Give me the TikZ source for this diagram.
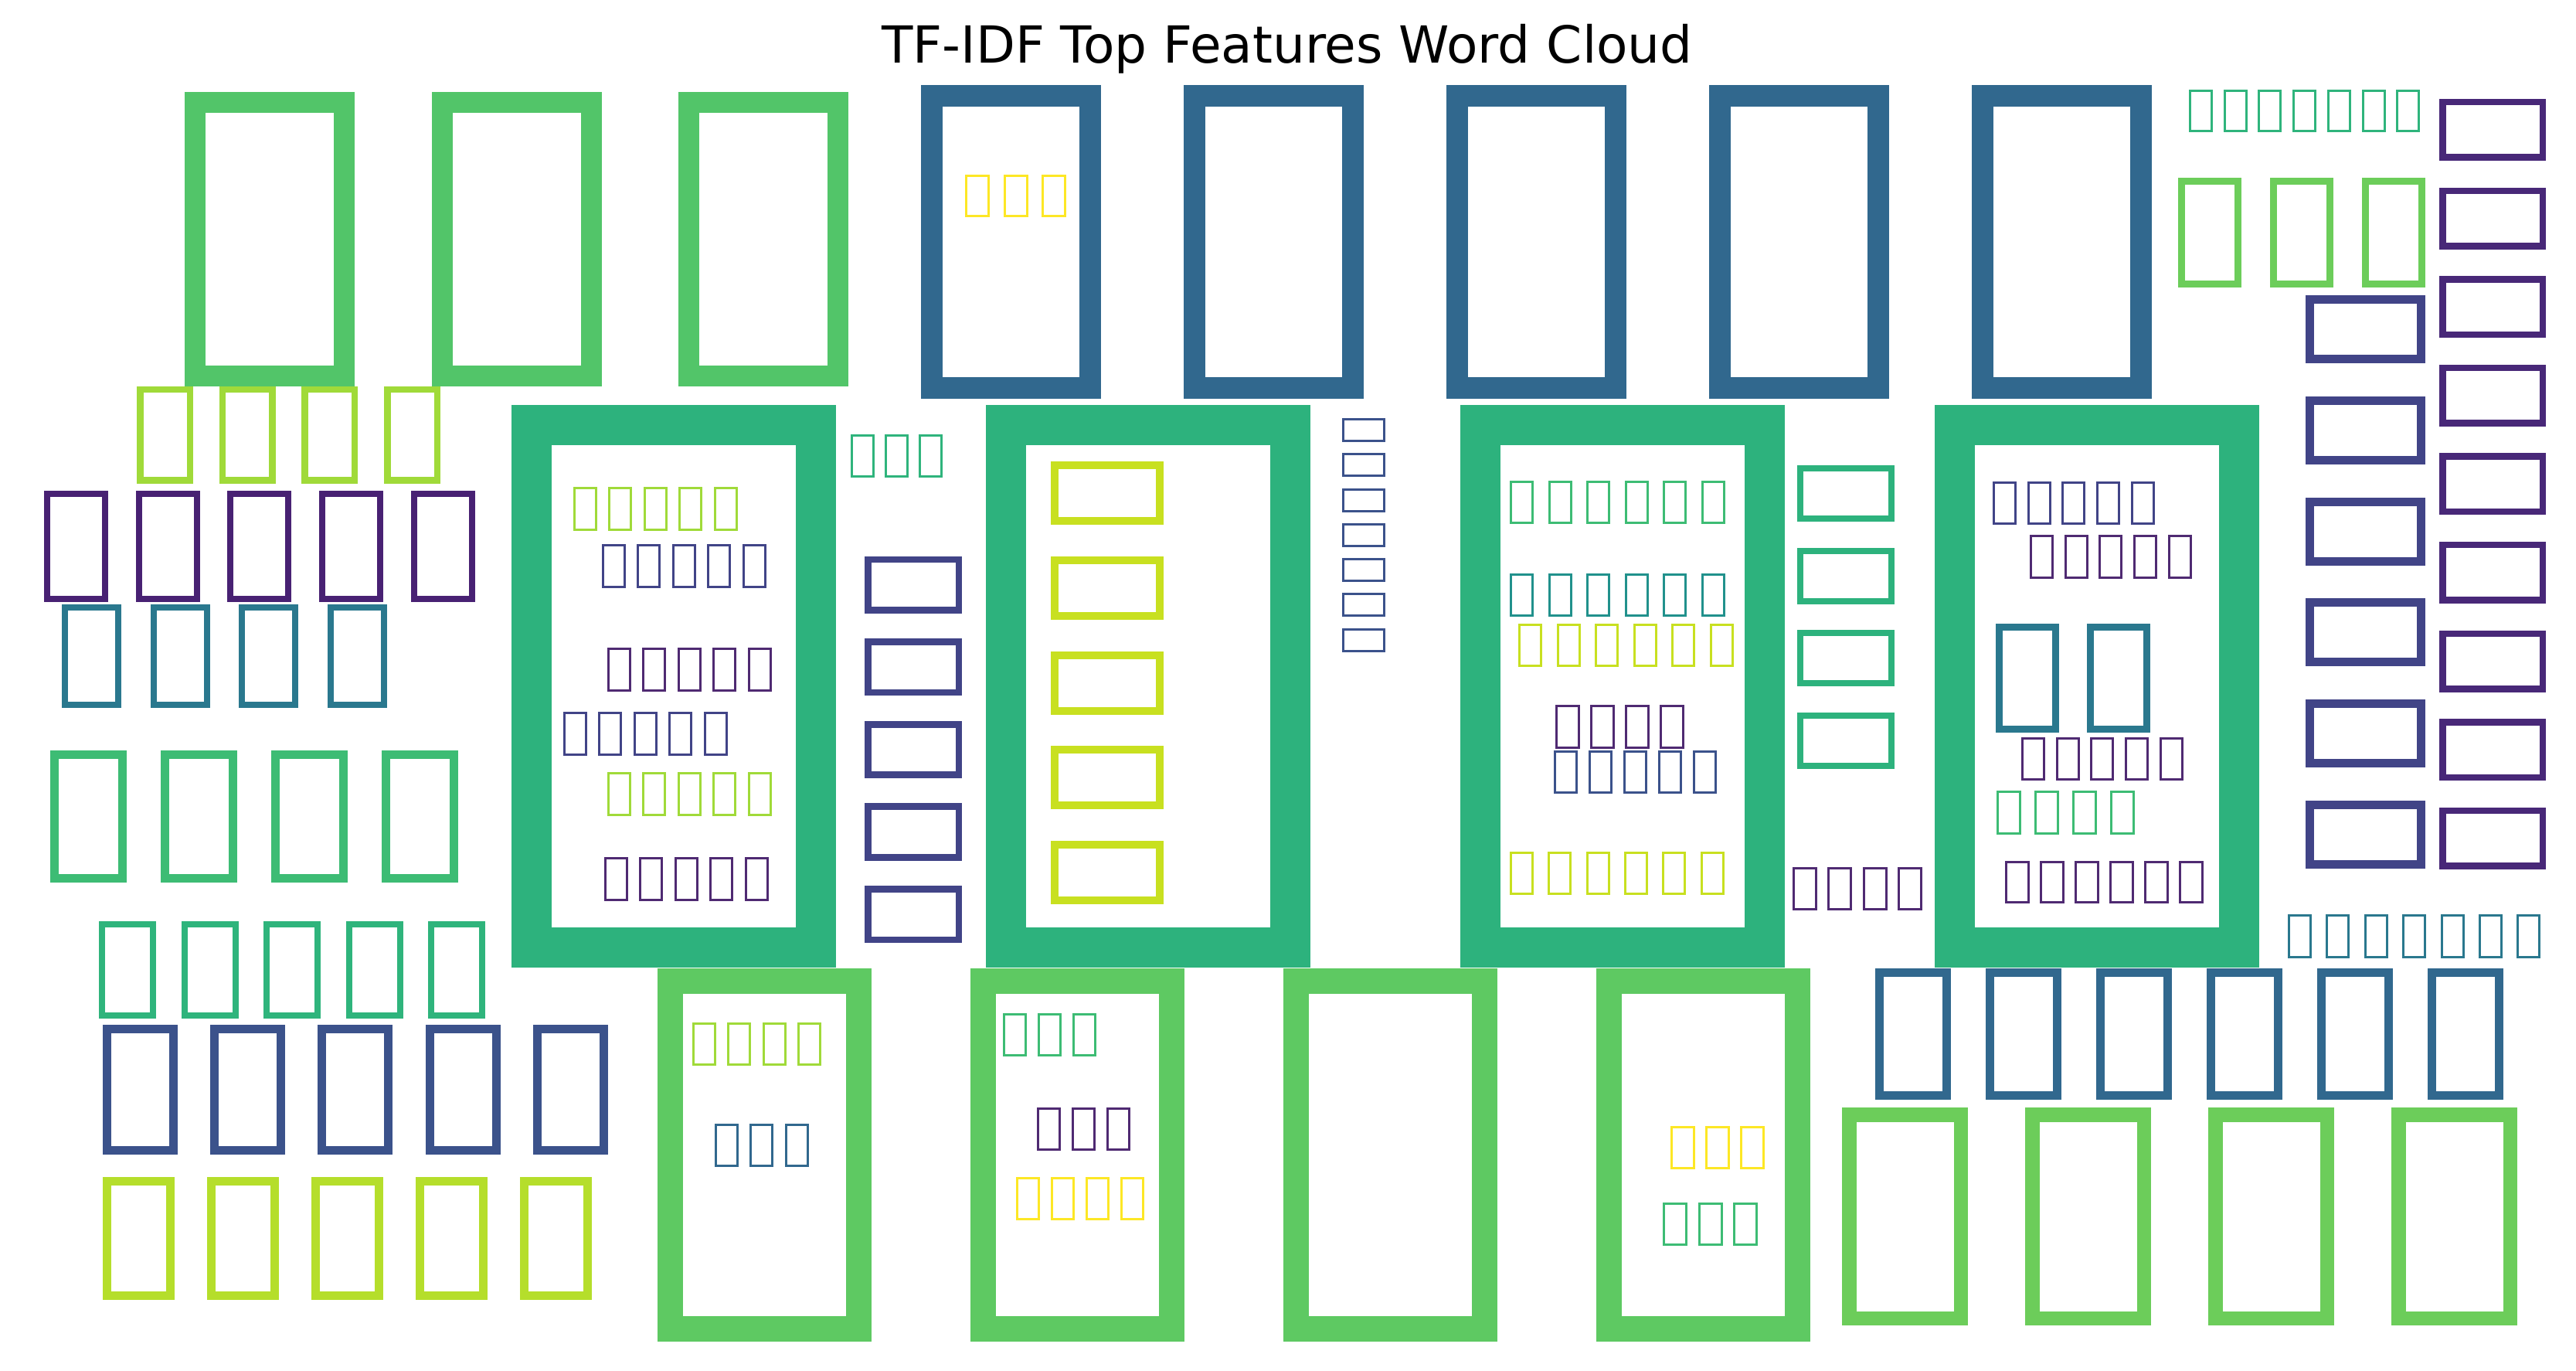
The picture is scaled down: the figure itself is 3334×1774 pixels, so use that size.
\documentclass[tikz,border=0pt]{standalone}
\usepackage{fontspec}
\setsansfont{DejaVu Sans}
\usepackage{tikz}
\usepackage{xcolor}
\definecolor{topgreen}{HTML}{52C569}
\definecolor{topblue}{HTML}{31688E}
\definecolor{bigteal}{HTML}{2DB27D}
\definecolor{lowgreen}{HTML}{5EC962}
\definecolor{sidegreen}{HTML}{6CCD5A}
\definecolor{yellow}{HTML}{FDE725}
\definecolor{lime}{HTML}{A0DA39}
\definecolor{limeb}{HTML}{B5DE2B}
\definecolor{limec}{HTML}{C8E020}
\definecolor{purple}{HTML}{482173}
\definecolor{purpleb}{HTML}{482878}
\definecolor{deep}{HTML}{4F2A72}
\definecolor{indigo}{HTML}{414487}
\definecolor{slate}{HTML}{3B528B}
\definecolor{petrol}{HTML}{2A788E}
\definecolor{tealb}{HTML}{21918C}
\definecolor{mint}{HTML}{3DBC74}
\definecolor{jade}{HTML}{2FB47C}
\tikzset{tofu/.style={draw=#1, line join=miter},
 cloudtitle/.style={font=\sffamily\fontsize{18.8}{22}\selectfont, anchor=base},
 }
\newcommand{\tofurow}[9]{%
  \foreach \k in {1,...,#4}{%
    \draw[tofu=#1, line width=#9*0.2845pt]
      ({#2+(\k-1)*#7+#9/2},{#3+(\k-1)*#8+#9/2}) rectangle
      ({#2+(\k-1)*#7+#5-#9/2},{#3+(\k-1)*#8+#6-#9/2});
  }%
}

\begin{document}
\begin{tikzpicture}[x=0.01cm, y=-0.01cm]
        \fill[white] (0,0) rectangle (3334,1774);
        \node[cloudtitle] (title) at (1666,82) {TF-IDF Top Features Word Cloud};
        \tofurow{topgreen}{239}{119}{3}{220}{381}{319.5}{0}{27}
        \tofurow{topblue}{1192}{110}{5}{233}{406}{340}{0}{28}
        \tofurow{yellow}{1249}{226}{3}{32}{55}{49.6}{0}{3}
        \tofurow{lime}{177}{500}{4}{73}{126}{106.7}{0}{8.5}
        \tofurow{purple}{57}{635}{5}{83}{144}{118.7}{0}{8}
        \tofurow{petrol}{80}{782}{4}{77}{134}{114.7}{0}{8}
        \tofurow{mint}{65}{971}{4}{99}{171}{143}{0}{11}
        \tofurow{jade}{128}{1192}{5}{74}{126}{106.6}{0}{8}
        \tofurow{slate}{133}{1326}{5}{97}{168}{139.2}{0}{11}
        \tofurow{limeb}{133}{1523}{5}{93}{159}{135}{0}{11}
        \tofurow{bigteal}{662}{524}{4}{420}{728}{614}{0}{52}
        \tofurow{lime}{742}{630}{5}{31}{57}{45.4}{0}{3}
        \tofurow{indigo}{779}{704}{5}{31}{57}{45.4}{0}{3}
        \tofurow{deep}{786}{838}{5}{31}{57}{45.4}{0}{3}
        \tofurow{indigo}{729}{921}{5}{31}{57}{45.4}{0}{3}
        \tofurow{lime}{786}{999}{5}{31}{57}{45.4}{0}{3}
        \tofurow{deep}{782}{1109}{5}{31}{57}{45.4}{0}{3}
        \tofurow{jade}{1101}{562}{3}{31}{56}{44}{0}{3}
        \tofurow{limec}{1360}{597}{5}{146}{82}{0}{122.8}{10}
        \tofurow{indigo}{1119}{720}{5}{126}{74}{0}{106.5}{8.5}
        \tofurow{slate}{1737}{541}{7}{56}{31}{0}{45.3}{3}
        \tofurow{mint}{1954}{622}{6}{31}{56}{49.5}{0}{3}
        \tofurow{tealb}{1954}{742}{6}{31}{56}{49.5}{0}{3}
        \tofurow{limec}{1965}{807}{6}{31}{56}{49.5}{0}{3}
        \tofurow{deep}{2013}{912}{4}{32}{57}{45}{0}{3}
        \tofurow{slate}{2011}{971}{5}{31}{56}{45}{0}{3}
        \tofurow{limec}{1954}{1102}{6}{31}{56}{49.3}{0}{3}
        \tofurow{jade}{2833}{116}{7}{31}{55}{44.7}{0}{3}
        \tofurow{sidegreen}{2819}{230}{3}{82}{142}{119}{0}{9}
        \tofurow{purpleb}{3157}{128}{9}{138}{80}{0}{114.6}{8.5}
        \tofurow{indigo}{2984}{382}{6}{155}{88}{0}{130.8}{11}
        \tofurow{bigteal}{2326}{602}{4}{126}{73}{0}{106.6}{8}
        \tofurow{indigo}{2579}{623}{5}{31}{56}{44.7}{0}{3}
        \tofurow{deep}{2627}{692}{5}{31}{57}{44.7}{0}{3}
        \tofurow{petrol}{2583}{807}{2}{82}{141}{118}{0}{9}
        \tofurow{deep}{2616}{954}{5}{31}{56}{44.7}{0}{3}
        \tofurow{mint}{2584}{1023}{4}{32}{57}{49}{0}{3}
        \tofurow{deep}{2595}{1114}{6}{32}{55}{45}{0}{3}
        \tofurow{deep}{2320}{1122}{4}{32}{56}{45.4}{0}{3}
        \tofurow{petrol}{2961}{1183}{7}{31}{57}{49.4}{0}{3}
        \tofurow{topblue}{2427}{1253}{6}{98}{170}{143}{0}{11}
        \tofurow{sidegreen}{2384}{1433}{4}{163}{282}{237}{0}{18.5}
        \tofurow{lowgreen}{851}{1253}{4}{277}{483}{405}{0}{33}
        \tofurow{lime}{896}{1323}{4}{31}{56}{45.4}{0}{3}
        \tofurow{topblue}{925}{1454}{3}{31}{56}{45.4}{0}{3}
        \tofurow{mint}{1298}{1311}{3}{31}{56}{45}{0}{3}
        \tofurow{deep}{1342}{1433}{3}{31}{56}{45}{0}{3}
        \tofurow{yellow}{1315}{1523}{4}{31}{56}{45}{0}{3}
        \tofurow{yellow}{2162}{1457}{3}{32}{56}{45}{0}{3}
        \tofurow{mint}{2152}{1556}{3}{32}{56}{45.5}{0}{3}
    \end{tikzpicture}
\end{document}
